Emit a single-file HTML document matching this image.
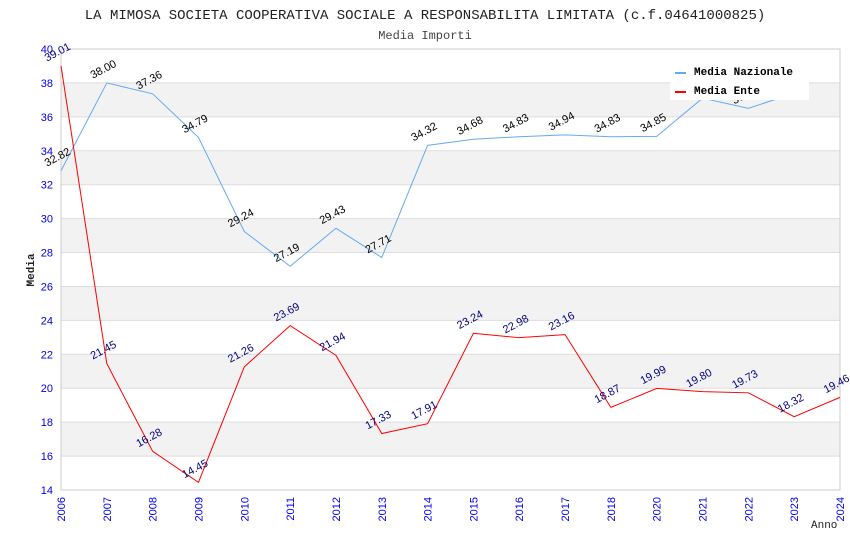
<!DOCTYPE html>
<html><head><meta charset="utf-8"><style>
body{margin:0;background:#fff;}
svg{display:block;font-family:"Liberation Sans",sans-serif;}
</style></head><body>
<svg id="c" width="850" height="550">
<text x="425" y="19" text-anchor="middle" font-family="Liberation Mono, monospace" font-size="14" fill="#222">LA MIMOSA SOCIETA COOPERATIVA SOCIALE A RESPONSABILITA LIMITATA (c.f.04641000825)</text>
<text x="425" y="39" text-anchor="middle" font-family="Liberation Mono, monospace" font-size="12" fill="#444">Media Importi</text>
<text transform="translate(34,270) rotate(-90)" text-anchor="middle" font-family="Liberation Mono, monospace" font-weight="bold" font-size="11" fill="#222">Media</text>
<text x="811" y="528" font-family="Liberation Mono, monospace" font-size="11" fill="#222">Anno</text>
<g id="bands"></g><g id="axes"></g><g id="series"></g>
<g>
<rect x="670" y="62" width="139" height="38" fill="#fff"/>
<line x1="675" y1="73" x2="686" y2="73" stroke="#66aaee" stroke-width="2"/>
<text x="694" y="75" font-family="Liberation Mono, monospace" font-weight="bold" font-size="11" fill="#000">Media Nazionale</text>
<line x1="675" y1="92" x2="686" y2="92" stroke="#ff0000" stroke-width="2"/>
<text x="694" y="94" font-family="Liberation Mono, monospace" font-weight="bold" font-size="11" fill="#000">Media Ente</text>
</g>
</svg>
<script>
const categories=["2006","2007","2008","2009","2010","2011","2012","2013","2014","2015","2016","2017","2018","2020","2021","2022","2023","2024"];
const nazionale=[32.82,38.00,37.36,34.79,29.24,27.19,29.43,27.71,34.32,34.68,34.83,34.94,34.83,34.85,37.1,36.5,37.4,null];
const ente=[39.01,21.45,16.28,14.45,21.26,23.69,21.94,17.33,17.91,23.24,22.98,23.16,18.87,19.99,19.80,19.73,18.32,19.46];
const yTicks=[14,16,18,20,22,24,26,28,30,32,34,36,38,40];
const NS="http://www.w3.org/2000/svg";
const X0=61,X1=840,Y0=490,Y1=49,YMIN=14,YMAX=40;
const xs=i=>X0+(X1-X0)*i/(categories.length-1);
const ys=v=>Y0-(v-YMIN)/(YMAX-YMIN)*(Y0-Y1);
function mk(t,a,p){const e=document.createElementNS(NS,t);for(const k in a)e.setAttribute(k,a[k]);p.appendChild(e);return e;}
const bands=document.getElementById('bands'),axes=document.getElementById('axes'),series=document.getElementById('series');
for(let k=0;k<yTicks.length-1;k++){
  const lo=yTicks[k],hi=yTicks[k+1];
  if(k%2===1){const r=mk('rect',{x:X0,y:ys(hi),width:X1-X0,height:ys(lo)-ys(hi),fill:'#f2f2f2'},bands);
  
  }
}
yTicks.forEach(v=>{
  const l=mk('line',{x1:X0,x2:X1,y1:ys(v),y2:ys(v),stroke:'#dddddd'},axes);
  
  
  const t=mk('text',{x:X0-8,y:ys(v)+4,'text-anchor':'end','font-size':11,fill:'#0000ee'},axes);t.textContent=v;
  
  
});
const fr=mk('rect',{x:X0,y:Y1,width:X1-X0,height:Y0-Y1,fill:'none',stroke:'#cccccc'},axes);


categories.forEach((c,i)=>{
  const t=mk('text',{transform:`translate(${xs(i)+4},${Y0+7}) rotate(-90)`,'text-anchor':'end','font-size':11,fill:'#0000ee'},axes);t.textContent=c;
  
  
});
function draw(vals,color,lblColor,name){
  const pts=[];vals.forEach((v,i)=>{if(v!==null)pts.push(xs(i)+','+ys(v));});
  const p=mk('polyline',{points:pts.join(' '),fill:'none',stroke:color,'stroke-width':1},series);
  
  
  vals.forEach((v,i)=>{
    if(v===null)return;
    const t=mk('text',{transform:`translate(${xs(i)-14},${ys(v)-4}) rotate(-28)`,'font-size':11,fill:lblColor},series);
    t.textContent=v.toFixed(2);
    
    
  });
}
draw(nazionale,'#66aaee','#000','nazionale');
draw(ente,'#ff0000','#000080','ente');
</script>
</body></html>
